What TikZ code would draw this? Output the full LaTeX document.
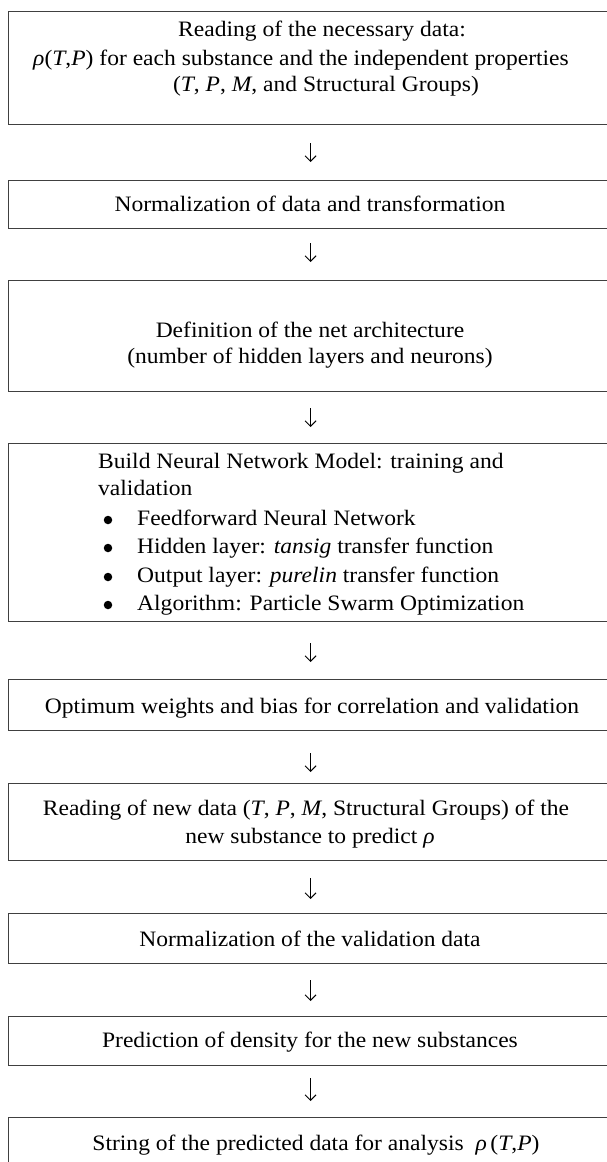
\documentclass[tikz,border=0pt]{standalone}
\usepackage{fontspec}
\setmainfont{Liberation Serif}[FakeStretch=1.07]
\usetikzlibrary{arrows.meta}
\begin{document}
\begin{tikzpicture}[x=1pt,y=1pt,
  box/.style={draw=black!75, line width=1.1pt, inner sep=0pt, anchor=north west, minimum width=604pt},
  txt/.style={anchor=base, inner sep=0pt, font=\fontsize{22}{26}\selectfont},
  txtl/.style={txt, anchor=base west},
  dot/.style={circle, fill=black, inner sep=0pt, minimum size=8.5pt},
  arr/.style={line width=1pt, -{Straight Barb[length=5.5pt,width=11pt,line width=1pt]}}]
\useasboundingbox (0,0) rectangle (607,-1162);
\clip (0,0) rectangle (607,-1162);
% boxes
\node[box, minimum height=113pt] (b1) at (8,-11) {};
\node[box, minimum height=48pt]  (b2) at (8,-180) {};
\node[box, minimum height=111pt] (b3) at (8,-280) {};
\node[box, minimum height=178pt] (b4) at (8,-443) {};
\node[box, minimum height=51pt]  (b5) at (8,-679) {};
\node[box, minimum height=77pt]  (b6) at (8,-783) {};
\node[box, minimum height=50pt]  (b7) at (8,-913) {};
\node[box, minimum height=49pt]  (b8) at (8,-1016) {};
\node[box, minimum height=60pt]  (b9) at (8,-1117) {};
% texts
\node[txt] (t1a) at (322,-36) {Reading of the necessary data:};
\node[txt] (t1b) at (301,-65) {\textit{ρ}(\textit{T},\textit{P}) for each substance and the independent properties};
\node[txt] (t1c) at (326,-91) {(\textit{T}, \textit{P}, \textit{M}, and Structural Groups)};
\node[txt] (t2) at (310,-211) {Normalization of data and transformation};
\node[txt] (t3a) at (310,-337) {Definition of the net architecture};
\node[txt] (t3b) at (310,-363) {(number of hidden layers and neurons)};
\node[txtl] (t4a) at (98,-468) {Build Neural Network Model: training and};
\node[txtl] (t4b) at (98,-495) {validation};
\node[dot] (u4c) at (108,-520) {};
\node[txtl] (t4c) at (137,-525) {Feedforward Neural Network};
\node[dot] (u4d) at (108,-548) {};
\node[txtl] (t4d) at (137,-553) {Hidden layer: \textit{tansig} transfer function};
\node[dot] (u4e) at (108,-577) {};
\node[txtl] (t4e) at (137,-582) {Output layer: \textit{purelin} transfer function};
\node[dot] (u4f) at (108,-605) {};
\node[txtl] (t4f) at (137,-610) {Algorithm: Particle Swarm Optimization};
\node[txt] (t5) at (312,-713) {Optimum weights and bias for correlation and validation};
\node[txt] (t6a) at (306,-815) {Reading of new data (\textit{T}, \textit{P}, \textit{M}, Structural Groups) of the};
\node[txt] (t6b) at (310,-843) {new substance to predict \textit{ρ}};
\node[txt] (t7) at (310,-946) {Normalization of the validation data};
\node[txt] (t8) at (310,-1047) {Prediction of density for the new substances};
\node[txt] (t9) at (316,-1150) {String of the predicted data for analysis\ \ \textit{ρ}\,(\textit{T},\textit{P})};
% connectors
\draw[arr, shorten <=18pt, shorten >=18pt] (b1) -- (b2);
\draw[arr, shorten <=14pt, shorten >=18pt] (b2) -- (b3);
\draw[arr, shorten <=16pt, shorten >=16pt] (b3) -- (b4);
\draw[arr, shorten <=21pt, shorten >=17pt] (b4) -- (b5);
\draw[arr, shorten <=22pt, shorten >=11pt] (b5) -- (b6);
\draw[arr, shorten <=17pt, shorten >=14pt] (b6) -- (b7);
\draw[arr, shorten <=16pt, shorten >=15pt] (b7) -- (b8);
\draw[arr, shorten <=12pt, shorten >=16pt] (b8) -- (b9);
\end{tikzpicture}
\end{document}
